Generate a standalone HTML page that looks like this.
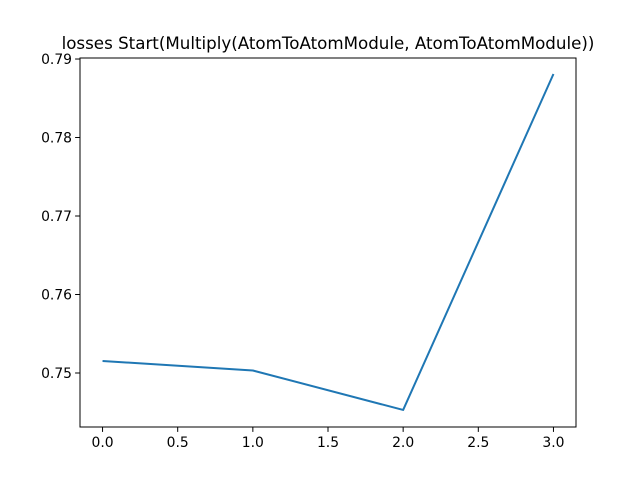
<!DOCTYPE html>
<html><head><meta charset="utf-8"><style>
body{margin:0;background:#fff;}
svg text{font-family:"DejaVu Sans","Liberation Sans",sans-serif;}
</style></head><body>
<svg id="chart" width="640" height="480" xmlns="http://www.w3.org/2000/svg">
<rect width="640" height="480" fill="#fff"/>
<text x="328" y="49" text-anchor="middle" font-size="16.7">losses Start(Multiply(AtomToAtomModule, AtomToAtomModule))</text>
<g id="g"></g>
<rect x="80" y="58" width="496" height="369" fill="none" stroke="#000" stroke-width="1"/>
</svg>
<script>
const xValues=[0,1,2,3];
const lossValues=[0.75153,0.75032,0.74529,0.78809];
const xTicks=[0,0.5,1,1.5,2,2.5,3];
const xTickLabels=["0.0","0.5","1.0","1.5","2.0","2.5","3.0"];
const yTicks=[0.75,0.76,0.77,0.78,0.79];
const yTickLabels=["0.75","0.76","0.77","0.78","0.79"];
const L=80,R=576,T=58,B=427;
const xmin=-0.15,xmax=3.15,ymin=0.74312,ymax=0.79013;
const sx=v=>L+(v-xmin)/(xmax-xmin)*(R-L);
const sy=v=>B-(v-ymin)/(ymax-ymin)*(B-T);
const g=document.getElementById('g');
const NS='http://www.w3.org/2000/svg';
function mk(t,a){const e=document.createElementNS(NS,t);for(const k in a)e.setAttribute(k,a[k]);g.appendChild(e);return e;}
xTicks.forEach((v,i)=>{
 const l=mk('line',{x1:sx(v),x2:sx(v),y1:B,y2:B+4.9,stroke:'#000'});
 
 
 const t=mk('text',{x:sx(v),y:B+20,'text-anchor':'middle','font-size':'13.9'});
 t.textContent=xTickLabels[i];
 
 
});
yTicks.forEach((v,i)=>{
 const l=mk('line',{x1:L-4.9,x2:L,y1:sy(v),y2:sy(v),stroke:'#000'});
 
 
 const t=mk('text',{x:L-8,y:sy(v)+5,'text-anchor':'end','font-size':'13.9'});
 t.textContent=yTickLabels[i];
 
 
});
const p=mk('polyline',{points:xValues.map((x,i)=>sx(x)+','+sy(lossValues[i])).join(' '),fill:'none',stroke:'#1f77b4','stroke-width':'2','stroke-linejoin':'round'});


</script>
</body></html>
